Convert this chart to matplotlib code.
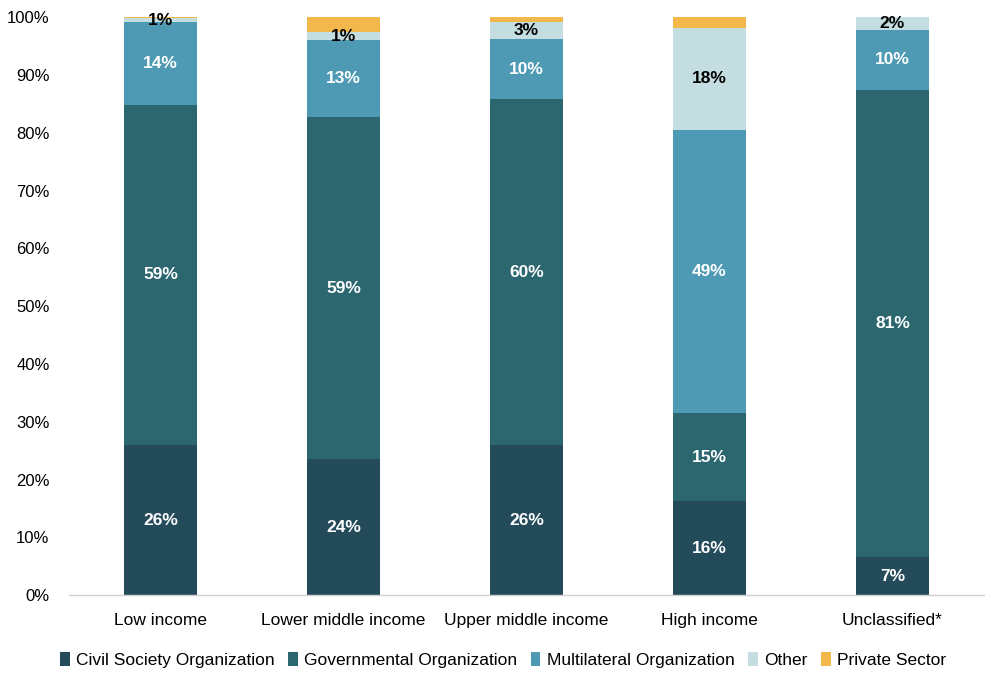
import matplotlib
matplotlib.use("Agg")
import matplotlib.pyplot as plt
import numpy as np
from matplotlib.ticker import PercentFormatter

categories = ["Low income", "Lower middle income", "Upper middle income", "High income", "Unclassified*"]
series_names = ["Civil Society Organization", "Governmental Organization", "Multilateral Organization", "Other", "Private Sector"]
civil_society = [26.0, 23.5, 26.0, 16.3, 6.6]
governmental = [58.8, 59.2, 59.8, 15.2, 80.8]
multilateral = [14.4, 13.3, 10.4, 49.0, 10.4]
other = [0.6, 1.4, 3.0, 17.6, 2.2]
private_sector = [0.2, 2.6, 0.8, 1.9, 0.0]

colors = ["#244B5A", "#2C6770", "#4E9AB5", "#C4DDE0", "#F2B84B"]
label_colors = ["white", "white", "white", "black", None]

font = "Liberation Sans"

fig = plt.figure(figsize=(10, 6.85), dpi=100)
ax = fig.add_axes([0.069, 0.131, 0.915, 0.844])

series = [civil_society, governmental, multilateral, other, private_sector]
x = np.arange(len(categories))
bottom = np.zeros(len(categories))
handles = []
for vals, name, col, lc in zip(series, series_names, colors, label_colors):
    v = np.array(vals)
    b = ax.bar(x, v, width=0.4, bottom=bottom, color=col, label=name, edgecolor="none")
    handles.append(b)
    if lc is not None:
        for xi, vi, bi in zip(x, v, bottom):
            if vi > 0.3:
                ax.text(xi, bi + vi / 2, f"{int(round(vi + 1e-9))}%", ha="center", va="center",
                        color=lc, fontsize=12.5, fontweight="bold", family=font)
    bottom += v

ax.set_xlim(-0.5, len(categories) - 0.5)
ax.set_ylim(0, 100)
ax.set_yticks(np.arange(0, 101, 10))
ax.yaxis.set_major_formatter(PercentFormatter(decimals=0))
ax.set_xticks(x)
ax.set_xticklabels(categories, family=font, fontsize=12.5)
for lab in ax.get_yticklabels():
    lab.set_family(font)
    lab.set_fontsize(12)
ax.tick_params(axis="both", length=0)
ax.tick_params(axis="x", pad=13)
ax.tick_params(axis="y", pad=14)
for s in ["top", "right", "left"]:
    ax.spines[s].set_visible(False)
ax.spines["bottom"].set_color("#D0D0D0")
ax.spines["bottom"].set_linewidth(1.0)

leg = fig.legend(handles=handles, labels=series_names, loc="center", bbox_to_anchor=(0.503, 0.037),
                 ncol=5, frameon=False, handlelength=0.55, handleheight=0.9, handletextpad=0.35,
                 columnspacing=0.8, prop={"family": font, "size": 12.5})

fig.savefig("out.png", dpi=100)
